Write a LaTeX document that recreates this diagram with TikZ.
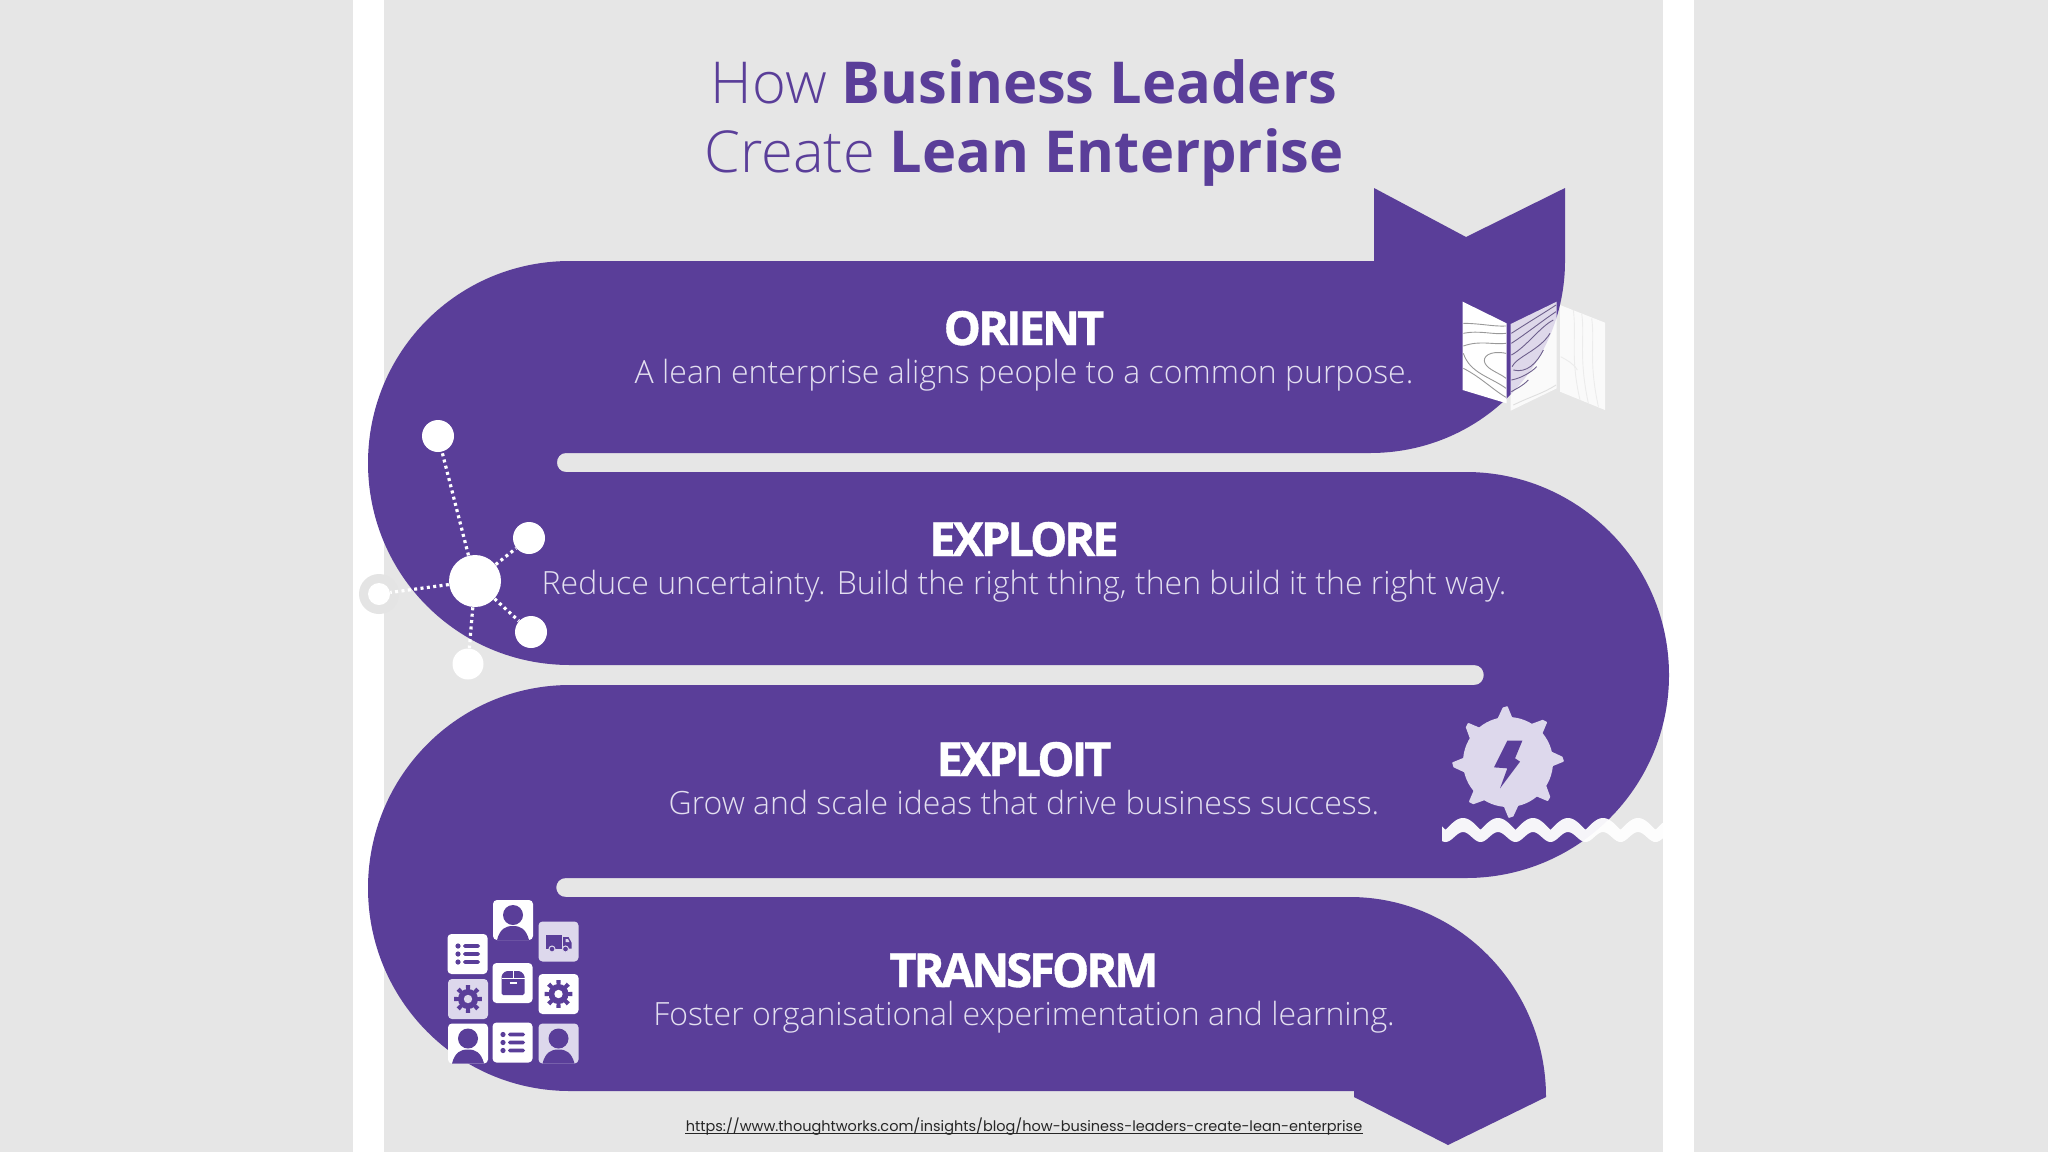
\documentclass[tikz,border=0pt]{standalone}
\usepackage{fontspec}
\setmainfont{Open Sans}
\newfontfamily\oslight[UprightFont={* Light},BoldFont={Open Sans Bold}]{Open Sans}
\newfontfamily\osbold{Open Sans Bold}
\newfontfamily\oshead[LetterSpace=-6.4,FakeBold=.8]{Open Sans Bold}
\newfontfamily\linkfont{Poppins}
\definecolor{bandp}{HTML}{5A3E99}
\definecolor{pagebg}{HTML}{E6E6E6}
\definecolor{lilac}{HTML}{DDD8EC}
\definecolor{subtxt}{HTML}{E3DFF0}
\tikzset{
  titletxt/.style={anchor=base,text=bandp,font=\oslight\fontsize{28.9}{32}\selectfont,inner sep=0pt},
  headtxt/.style={anchor=base,text=white,font=\oshead\fontsize{23.5}{26}\selectfont,inner sep=0pt},
  subline/.style={anchor=base,text=subtxt,font=\oslight\fontsize{16}{19}\selectfont,inner sep=0pt},
  netnode/.style={circle,fill=white,inner sep=0pt,minimum size=#1},
  netlink/.style={draw=white,line width=1.6pt,dash pattern=on 1.5pt off 1.7pt},
  contourA/.style={draw=#1,line width=.45pt},
  tilebox/.style={fill=#1,rounded corners=2pt},
  pics/persontile/.style={code={
    \fill[tilebox=#1] (-20,-20) rectangle (20,20);
    \fill[bandp] (0,-5) circle (10);
    \fill[bandp] (-16,20) .. controls (-13,9) and (-8,6) .. (0,6) .. controls (8,6) and (13,9) .. (16,20) -- cycle;
  }},
  pics/listtile/.style={code={
    \fill[tilebox=#1] (-20,-20) rectangle (20,20);
    \foreach \d in {-8,0,8}{
      \fill[bandp] (-9.5,\d) circle (2.6);
      \fill[bandp,rounded corners=.8pt] (-4.5,\d-1.8) rectangle (12.5,\d+1.8);
    }
  }},
  pics/geartile/.style={code={
    \fill[tilebox=#1] (-20,-20) rectangle (20,20);
    \fill[bandp] (0,0) circle (10);
    \foreach \a in {0,45,...,315}{
      \fill[bandp] (\a-13:8) -- (\a-9:14) -- (\a+9:14) -- (\a+13:8) -- cycle;
    }
    \fill[#1] (0,0) circle (4.2);
  }},
  pics/trucktile/.style={code={
    \fill[tilebox=#1] (-20,-20) rectangle (20,20);
    \fill[bandp] (-13,-7) rectangle (3,7);
    \fill[bandp] (4.5,-4.5) -- (10,-4.5) -- (13,1) -- (13,7) -- (4.5,7) -- cycle;
    \fill[#1] (7,-2.5) -- (9.5,-2.5) -- (11,.5) -- (7,.5) -- cycle;
    \filldraw[fill=bandp,draw=#1,line width=.5pt] (-6.5,7.5) circle (3);
    \filldraw[fill=bandp,draw=#1,line width=.5pt] (7,7.5) circle (3);
  }},
  pics/boxtile/.style={code={
    \fill[tilebox=#1] (-20,-20) rectangle (20,20);
    \fill[bandp,rounded corners=.8pt] (-11,-8) -- (-7,-12) -- (8,-12) -- (12,-8) -- (12,12) -- (-11,12) -- cycle;
    \draw[#1,line width=.4pt] (-11,-5) -- (12,-5);
    \draw[#1,line width=.4pt] (.5,-12) -- (.5,-5);
    \draw[#1,line width=.7pt] (-3,0) -- (4,0);
  }}
}
\begin{document}
\begin{tikzpicture}[x=.5pt,y=-.5pt]
\useasboundingbox (0,0) rectangle (2048,1152);
\fill[pagebg] (0,0) rectangle (2048,1152);
\fill[white] (353,0) rectangle (384,1152);
\fill[white] (1663,0) rectangle (1694,1152);
% the snake
\fill[bandp] (1374,261) -- (1374,188) -- (1466,237) -- (1565,188) -- (1565,261)
  .. controls (1565,368) and (1478,453) .. (1370,453)
  -- (566,453) .. controls (554,453) and (554,472) .. (566,472)
  -- (1466,472) .. controls (1578,472) and (1669,563) .. (1669,675)
  .. controls (1669,787) and (1578,878) .. (1466,878)
  -- (566,878) .. controls (553,878) and (553,897) .. (566,897)
  -- (1350,897) .. controls (1458,897) and (1546,987) .. (1546,1097)
  -- (1448,1145) -- (1354,1097) -- (1354,1091) -- (570,1091)
  .. controls (458,1091) and (368,1000) .. (368,888)
  .. controls (368,776) and (458,685) .. (570,685)
  -- (1474,685) .. controls (1487,685) and (1487,665) .. (1474,665)
  -- (570,665) .. controls (458,665) and (368,575) .. (368,463)
  .. controls (368,351) and (458,261) .. (570,261) -- cycle;
% title
\node[titletxt] (t1) at (1024,103) {How \osbold Business Leaders};
\node[titletxt] (t2) at (1024,172) {Create \osbold Lean Enterprise};
% rows
\node[headtxt] (h1) at (1024,345) {ORIENT};
\node[subline] (s1) at (1024,383.5) {A lean enterprise aligns people to a common purpose.};
\node[headtxt] (h2) at (1024,556) {EXPLORE};
\node[subline] (s2) at (1024,594.5) {Reduce uncertainty. Build the right thing, then build it the right way.};
\node[headtxt] (h3) at (1024,776) {EXPLOIT};
\node[subline] (s3) at (1024,814.5) {Grow and scale ideas that drive business success.};
\node[headtxt] (h4) at (1024,987) {TRANSFORM};
\node[subline] (s4) at (1024,1025.5) {Foster organisational experimentation and learning.};
\node[anchor=base,inner sep=0pt,text=black!85,font=\linkfont\fontsize{7.24}{9}\selectfont] (lnk) at (1024,1131) {https://www.thoughtworks.com/insights/blog/how-business-leaders-create-lean-enterprise};
\draw[black!85,line width=.5pt] ([yshift=-1.1pt]lnk.base west) -- ([yshift=-1.1pt]lnk.base east);
% book
\begin{scope}[shift={(1340,170)},x=.16667pt,y=-.16667pt]
\fill[white] (368,395) -- (500,460) -- (500,700) -- (368,660) -- cycle;
\draw[contourA=gray!80] (370,460) .. controls (420,460) and (460,470) .. (498,468);
\draw[contourA=gray!80] (370,490) .. controls (420,480) and (460,495) .. (498,490);
\draw[contourA=gray!80] (370,528) .. controls (420,510) and (460,525) .. (498,520);
\draw[contourA=gray!80] (498,550) .. controls (450,540) and (425,560) .. (435,580) .. controls (445,600) and (480,610) .. (498,625);
\draw[contourA=gray!80] (370,550) .. controls (390,610) and (450,620) .. (498,655);
\draw[contourA=gray!80] (370,595) .. controls (420,620) and (460,660) .. (498,682);
\fill[white,opacity=.8] (512,462) -- (650,395) -- (650,655) -- (512,722) -- cycle;
\draw[contourA=bandp!50!gray] (514,490) .. controls (560,460) and (610,430) .. (648,405);
\draw[contourA=bandp!50!gray] (514,520) .. controls (560,490) and (610,450) .. (648,425);
\draw[contourA=bandp!50!gray] (514,555) .. controls (560,530) and (600,470) .. (640,450);
\draw[contourA=bandp!50!gray] (516,590) .. controls (530,560) and (600,540) .. (630,490);
\draw[contourA=bandp!50!gray] (520,600) .. controls (560,610) and (590,580) .. (610,540);
\draw[contourA=bandp!50!gray] (514,630) .. controls (540,625) and (570,610) .. (590,590);
\draw[contourA=bandp!50!gray] (514,665) .. controls (530,655) and (545,650) .. (565,630);
\draw[contourA=gray!25] (520,705) .. controls (570,680) and (610,670) .. (648,645);
\fill[white,opacity=.8] (660,405) -- (795,458) -- (795,720) -- (660,665) -- cycle;
\draw[contourA=gray!15] (700,420) .. controls (710,500) and (690,560) .. (720,690);
\draw[contourA=gray!15] (725,430) .. controls (735,500) and (715,560) .. (745,700);
\draw[contourA=gray!15] (755,445) .. controls (765,520) and (745,570) .. (775,710);
\draw[contourA=gray!15] (662,560) .. controls (680,570) and (700,580) .. (712,600);
\end{scope}
% network
\fill[pagebg!99!black] (379,594) circle (20);
\node[netnode=11pt] (nl) at (379,594) {};
\node[netnode=26pt] (nc) at (475,581) {};
\node[netnode=16pt] (nt) at (438,436) {};
\node[netnode=16pt] (nr) at (529,538) {};
\node[netnode=16pt] (nd) at (531,632) {};
\node[netnode=15.5pt] (nb) at (468,664) {};
\draw[netlink] (nc) -- (nt);
\draw[netlink] (nc) -- (nr);
\draw[netlink] (nc) -- (nd);
\draw[netlink] (nc) -- (nb);
\draw[netlink] (nc) -- (nl);
% gear
\begin{scope}[shift={(1508,762)}]
\fill[lilac] (0,0) circle (45);
\foreach \a in {-2,43,...,313}{
  \filldraw[lilac,line width=.8pt,line join=round] ({\a-13}:42) -- ({\a-3}:54) -- ({\a+1}:55) -- ({\a+8}:42) -- cycle;
}
\end{scope}
\begin{scope}[shift={(1420,690)},x=.16667pt,y=-.16667pt]
\fill[bandp] (262,152) -- (307,152) -- (285,205) -- (300,215) -- (240,295) -- (262,235) -- (222,232) -- cycle;
\end{scope}
% waves
\fill[white,opacity=.95] plot[domain=1442:1663,samples=160] (\x,{830-12*abs(cos(5.14286*(\x-1463)))})
  -- plot[domain=1663:1442,samples=120,smooth] (\x,{837-5*cos(10.2857*(\x-1463))}) -- cycle;
% tiles
\pic at (513,920) {persontile=white};
\pic at (558.5,941.5) {trucktile=lilac};
\pic at (467.5,954) {listtile=white};
\pic at (512.5,983) {boxtile=white};
\pic at (468,999) {geartile=lilac};
\pic at (558.5,994) {geartile=white};
\pic at (468,1043.5) {persontile=white};
\pic at (512.5,1042.5) {listtile=white};
\pic at (558.5,1043.5) {persontile=lilac};
\end{tikzpicture}
\end{document}
